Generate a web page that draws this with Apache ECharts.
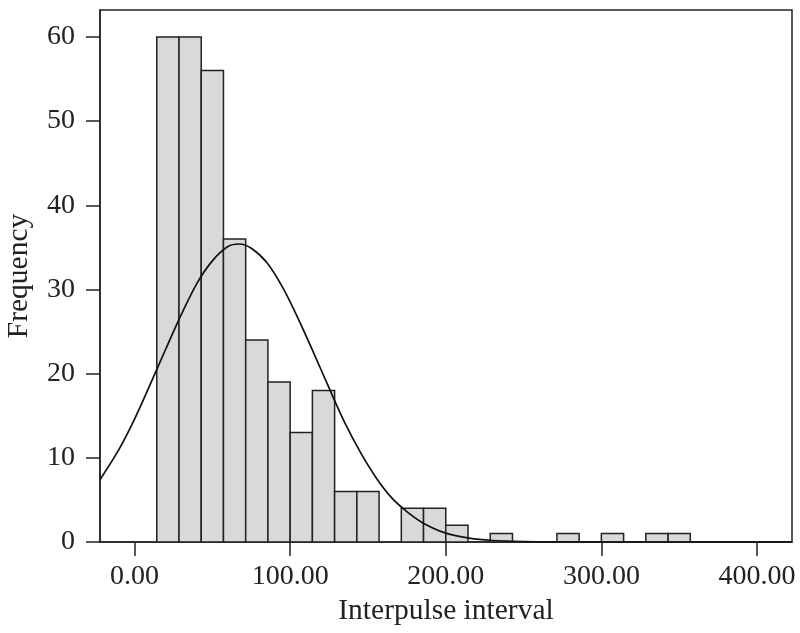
<!DOCTYPE html>
<html>
<head>
<meta charset="utf-8">
<script src="https://cdn.jsdelivr.net/npm/echarts@6/dist/echarts.min.js"></script>
<style>
  html, body { margin: 0; padding: 0; background: #fff; }
  #chart { width: 800px; height: 633px; }
</style>
</head>
<body>
<div id="chart"></div>
<script>
// Histogram bins (left/right edges) and frequencies
const binLeft  = [14.29, 28.57, 42.86, 57.14, 71.43, 85.71, 100.00, 114.29, 128.57, 142.86, 157.14, 171.43,
                  185.71, 200.00, 214.29, 228.57, 242.86, 257.14, 271.43, 285.71, 300.00, 314.29, 328.57, 342.86];
const binRight = [28.57, 42.86, 57.14, 71.43, 85.71, 100.00, 114.29, 128.57, 142.86, 157.14, 171.43, 185.71,
                  200.00, 214.29, 228.57, 242.86, 257.14, 271.43, 285.71, 300.00, 314.29, 328.57, 342.86, 357.14];
const counts   = [60, 60, 56, 36, 24, 19, 13, 18, 6, 6, 0, 4, 4, 2, 0, 1, 0, 0, 1, 0, 1, 0, 1, 1];

// Fitted normal curve
const curveX = [-22.2, -10, 0, 10, 20, 30, 40, 50, 60, 67, 75, 85, 95, 105, 115, 125, 135, 145, 155, 165, 175, 185, 200, 215, 230, 250, 270, 300, 422.5];
const curveY = [7.4, 11.0, 14.6, 18.7, 22.9, 27.0, 30.7, 33.4, 35.1, 35.4, 34.9, 33.2, 30.3, 26.6, 22.5, 18.3, 14.2, 10.7, 7.7, 5.3, 3.6, 2.3, 1.05, 0.45, 0.18, 0.05, 0.01, 0, 0];

// Tick labels
const xTicks = [0, 100, 200, 300, 400];
const yTicks = [0, 10, 20, 30, 40, 50, 60];

const barData = [];
for (let i = 0; i < counts.length; i++) {
  if (counts[i] > 0) barData.push([binLeft[i], binRight[i], counts[i]]);
}
const curveData = curveX.map((x, i) => [x, curveY[i]]);

const ink = '#222222';
const fontFamily = 'Liberation Serif';

const chart = echarts.init(document.getElementById('chart'), null, { renderer: 'canvas' });
chart.setOption({
  animation: false,
  backgroundColor: '#ffffff',
  grid: {
    left: 100, right: 8, top: 10, bottom: 91,
    containLabel: false,
    outerBoundsMode: 'none',
    show: true, borderColor: ink, borderWidth: 1.5, backgroundColor: 'transparent'
  },
  xAxis: {
    type: 'value',
    min: -22.2, max: 422.5,
    name: 'Interpulse interval',
    nameLocation: 'middle',
    nameGap: 54,
    nameTextStyle: { fontFamily, fontSize: 29.5, color: ink },
    axisLine: { show: true, onZero: false, lineStyle: { color: ink, width: 1.5 } },
    axisTick: { show: true, length: 14, lineStyle: { color: ink, width: 1.5 }, customValues: xTicks },
    axisLabel: {
      fontFamily, fontSize: 28, color: ink, margin: 21,
      customValues: xTicks,
      formatter: v => v.toFixed(2)
    },
    splitLine: { show: false }
  },
  yAxis: {
    type: 'value',
    min: 0, max: 63.2,
    name: 'Frequency',
    nameLocation: 'middle',
    nameGap: 66,
    nameRotate: 90,
    nameTextStyle: { fontFamily, fontSize: 29.5, color: ink },
    axisLine: { show: true, onZero: false, lineStyle: { color: ink, width: 1.5 } },
    axisTick: { show: true, length: 14, lineStyle: { color: ink, width: 1.5 }, customValues: yTicks },
    axisLabel: {
      fontFamily, fontSize: 28, color: ink, margin: 25,
      customValues: yTicks,
      formatter: v => String(Math.round(v))
    },
    splitLine: { show: false }
  },
  series: [
    {
      type: 'custom',
      data: barData,
      encode: { x: [0, 1], y: 2 },
      z: 2,
      renderItem: function (params, api) {
        const p0 = api.coord([api.value(0), api.value(2)]);
        const p1 = api.coord([api.value(1), 0]);
        return {
          type: 'rect',
          shape: { x: p0[0], y: p0[1], width: p1[0] - p0[0], height: p1[1] - p0[1] },
          style: { fill: '#d9d9d9', stroke: ink, lineWidth: 1.5 }
        };
      }
    },
    {
      type: 'line',
      data: curveData,
      smooth: 0.3,
      showSymbol: false,
      symbol: 'none',
      clip: true,
      z: 3,
      lineStyle: { color: '#111111', width: 1.7 }
    }
  ]
});
</script>
</body>
</html>
